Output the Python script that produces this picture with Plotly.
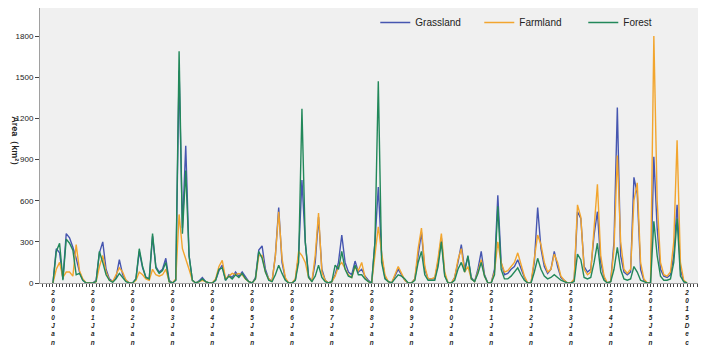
import plotly.graph_objects as go

years = list(range(2000, 2016))
month_names = ["Jan", "Feb", "Mar", "Apr", "May", "Jun", "Jul", "Aug", "Sep", "Oct", "Nov", "Dec"]
months = [f"{y}{m}" for y in years for m in month_names]

grassland = [
    0, 250, 220, 30, 360, 330, 260, 180, 80, 20, 0, 0,          # 2000
    0, 20, 220, 300, 100, 30, 10, 40, 170, 60, 20, 0,           # 2001
    0, 30, 230, 110, 40, 30, 340, 120, 80, 100, 180, 20,        # 2002
    0, 20, 1550, 400, 1000, 200, 20, 0, 15, 40, 10, 0,          # 2003
    0, 20, 90, 130, 20, 60, 40, 80, 50, 80, 40, 10,             # 2004
    0, 40, 240, 270, 100, 30, 10, 200, 550, 150, 30, 0,         # 2005
    0, 20, 200, 750, 300, 50, 10, 150, 480, 100, 20, 0,         # 2006
    10, 60, 150, 350, 150, 80, 60, 160, 80, 100, 50, 20,        # 2007
    0, 300, 700, 200, 40, 10, 0, 50, 100, 60, 20, 0,            # 2008
    0, 30, 200, 370, 100, 30, 30, 30, 150, 330, 60, 0,          # 2009
    0, 40, 150, 280, 100, 190, 40, 10, 100, 230, 60, 0,         # 2010
    0, 100, 640, 150, 60, 70, 100, 120, 170, 100, 40, 0,        # 2011
    0, 150, 550, 250, 120, 70, 100, 230, 120, 40, 20, 0,        # 2012
    0, 20, 520, 470, 120, 80, 100, 350, 520, 150, 40, 0,        # 2013
    10, 300, 1280, 200, 80, 60, 80, 770, 650, 100, 20, 0,       # 2014
    0, 920, 400, 100, 50, 40, 60, 200, 570, 100, 10, 0,         # 2015
]
farmland = [
    0, 100, 150, 40, 80, 80, 50, 280, 90, 30, 0, 0,
    0, 10, 120, 200, 80, 20, 10, 60, 110, 80, 20, 0,
    0, 20, 80, 60, 30, 20, 100, 60, 50, 60, 100, 10,
    0, 30, 500, 250, 180, 100, 20, 0, 10, 20, 10, 0,
    0, 30, 120, 165, 30, 50, 70, 60, 70, 60, 30, 10,
    0, 30, 200, 200, 80, 30, 10, 200, 520, 180, 40, 0,
    0, 30, 230, 200, 150, 40, 10, 200, 510, 80, 20, 0,
    10, 50, 120, 150, 100, 60, 40, 120, 90, 150, 40, 10,
    0, 200, 410, 220, 60, 10, 0, 60, 120, 70, 20, 0,
    0, 30, 250, 400, 120, 30, 30, 40, 180, 360, 80, 0,
    0, 40, 170, 250, 80, 120, 30, 10, 80, 170, 50, 0,
    0, 80, 300, 150, 80, 90, 120, 150, 220, 130, 50, 0,
    0, 180, 350, 280, 150, 80, 100, 210, 150, 50, 20, 0,
    0, 30, 570, 480, 100, 60, 80, 400, 720, 200, 50, 0,
    10, 250, 930, 300, 100, 70, 100, 600, 730, 150, 30, 0,
    0, 1800, 600, 150, 60, 50, 80, 300, 1040, 150, 20, 0,
]
forest = [
    0, 230, 290, 20, 320, 290, 240, 60, 70, 20, 0, 0,
    0, 10, 230, 150, 60, 20, 5, 30, 70, 40, 10, 0,
    0, 30, 250, 120, 40, 30, 360, 110, 70, 90, 150, 10,
    0, 20, 1690, 360, 820, 200, 20, 0, 10, 30, 10, 0,
    0, 20, 100, 110, 20, 50, 30, 60, 40, 70, 30, 10,
    0, 30, 230, 180, 80, 20, 10, 60, 130, 70, 20, 0,
    0, 20, 150, 1270, 300, 40, 10, 50, 130, 40, 10, 0,
    10, 130, 100, 230, 100, 50, 40, 130, 60, 60, 30, 10,
    0, 300, 1470, 150, 30, 10, 0, 30, 60, 50, 30, 0,
    0, 20, 150, 230, 60, 20, 20, 20, 120, 300, 50, 0,
    0, 20, 100, 150, 80, 200, 30, 10, 70, 150, 50, 0,
    0, 60, 560, 100, 30, 30, 50, 80, 110, 60, 20, 0,
    0, 80, 180, 100, 50, 30, 40, 60, 40, 20, 10, 0,
    0, 10, 210, 170, 40, 30, 40, 150, 290, 80, 20, 0,
    10, 100, 260, 100, 30, 20, 30, 120, 80, 20, 10, 0,
    0, 450, 200, 50, 20, 20, 30, 150, 470, 50, 10, 0,
]

tick_labels = [f"{y}Jan" for y in years] + ["2015Dec"]
y_ticks = [0, 300, 600, 900, 1200, 1500, 1800]

x_idx = list(range(len(months)))
tick_pos = [months.index(t) for t in tick_labels]
tick_text = ["<br>".join(list(t)) for t in tick_labels]

fig = go.Figure()
series = [("Grassland", grassland, "#4656b0"),
          ("Farmland", farmland, "#f2a52e"),
          ("Forest", forest, "#22885a")]
for name, vals, col in series:
    fig.add_trace(go.Scatter(x=x_idx, y=vals, name=name, mode="lines",
                             line=dict(color=col, width=1.4),
                             hovertext=months))

# the page body has an 8px margin, so the figure is sized/placed to compensate
fig.update_layout(
    template="none",
    width=698, height=342,
    margin=dict(l=32, r=6, t=0, b=67, autoexpand=False),
    paper_bgcolor="white",
    plot_bgcolor="#f0f0f0",
    font=dict(family="Liberation Sans, Arial, sans-serif", color="#222"),
    legend=dict(orientation="h", x=0.508, y=1.0, xanchor="left", yanchor="top",
                bgcolor="rgba(0,0,0,0)", font=dict(size=10, color="#222"),
                entrywidth=59, entrywidthmode="pixels", itemwidth=30),
    xaxis=dict(range=[-3.9, 194.9], tickvals=tick_pos, ticktext=tick_text,
               tickangle=0, showgrid=False, zeroline=False, automargin=False,
               showline=True, mirror=True, linecolor="#a0a0a0", linewidth=1,
               ticks="outside", ticklen=3, tickcolor="#444",
               minor=dict(dtick=1, tick0=0, ticks="outside", ticklen=3, tickcolor="#444"),
               tickfont=dict(size=6.4, family="Liberation Sans, Arial, sans-serif", color="#222",
                             weight="bold", style="italic")),
    yaxis=dict(range=[0, 2005], tickvals=y_ticks, showgrid=False, zeroline=False, automargin=False,
               showline=True, mirror=True, linecolor="#a0a0a0", linewidth=1,
               ticks="outside", ticklen=4, tickcolor="#444",
               tickfont=dict(size=8, color="#222")),
    annotations=[dict(text="<b>Area（km²）</b>", textangle=90, xref="paper", yref="paper",
                      x=-0.037, y=0.51, xanchor="center", yanchor="middle", showarrow=False,
                      font=dict(size=9, color="#222"))],
)

fig.write_html("out.html")
